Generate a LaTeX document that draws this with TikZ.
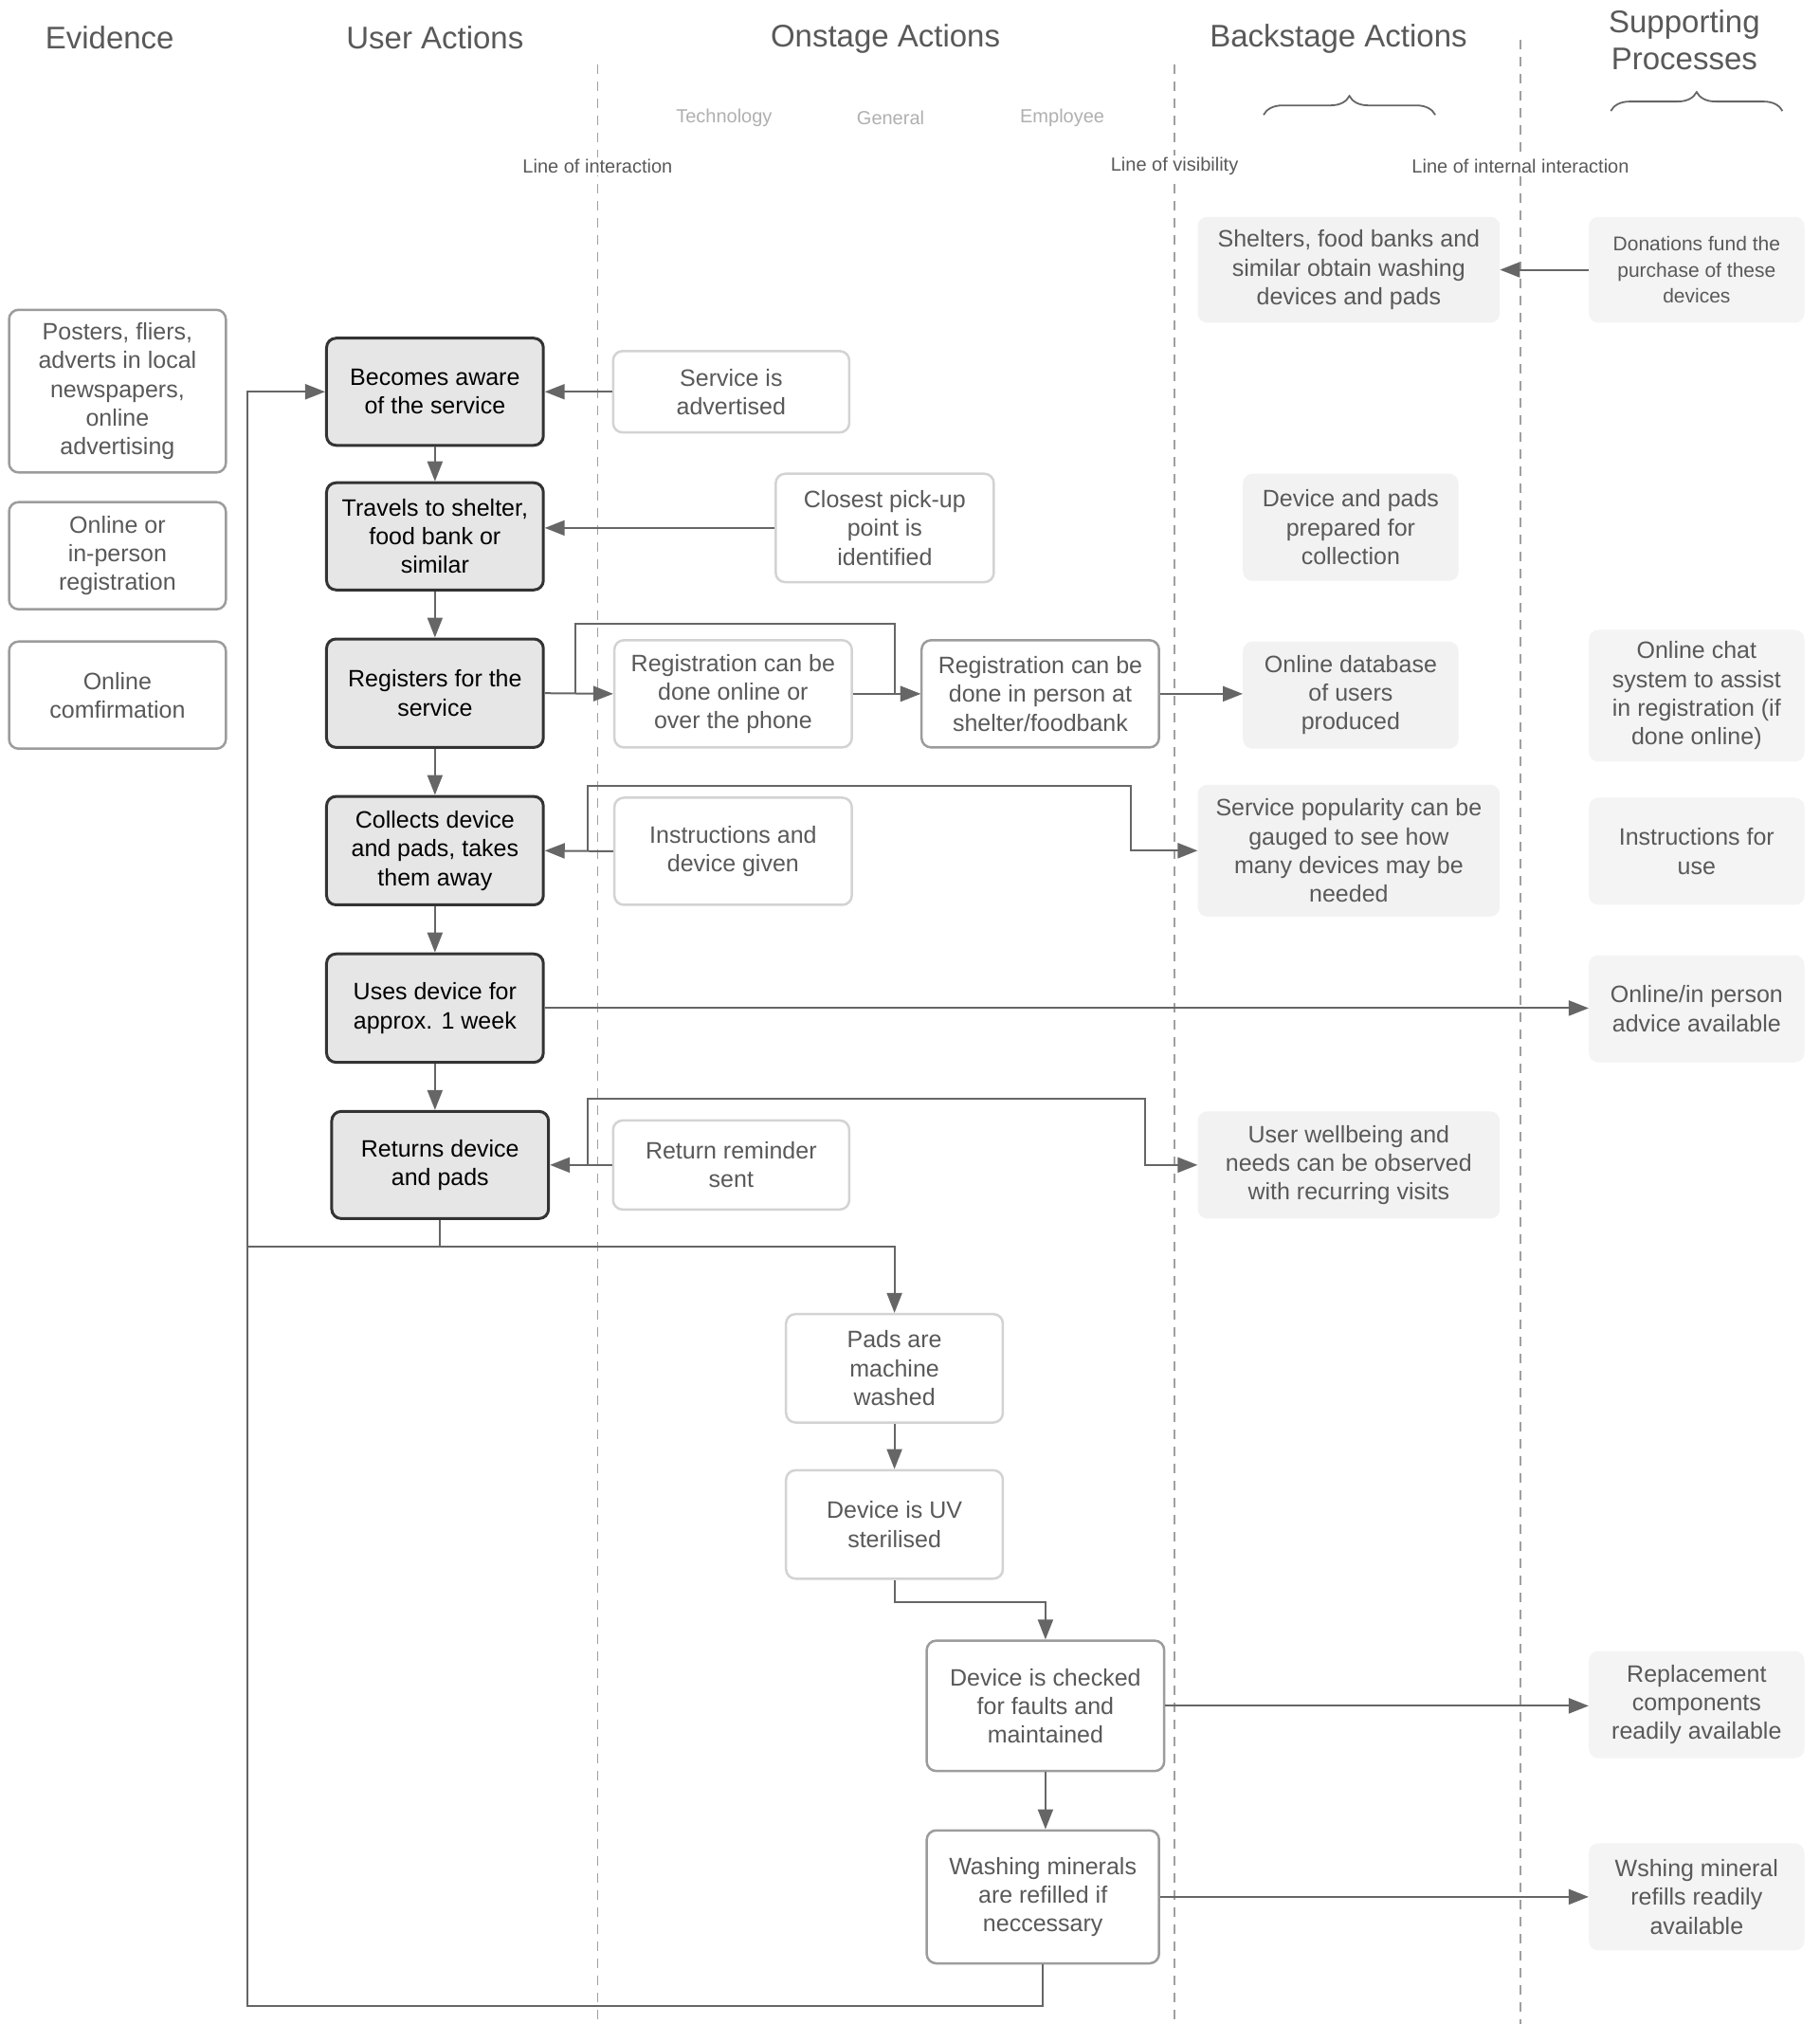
\documentclass[tikz,border=0pt]{standalone}
\usepackage{fontspec}
\setmainfont{Liberation Sans}
\usetikzlibrary{arrows.meta,decorations.pathreplacing}
\definecolor{txt}{HTML}{595959}
\definecolor{ufill}{HTML}{E6E6E6}
\definecolor{udraw}{HTML}{333333}
\definecolor{lborder}{HTML}{D3D3D3}
\definecolor{dborder}{HTML}{9C9C9C}
\definecolor{bfill}{HTML}{F2F2F2}
\definecolor{sfill}{HTML}{F4F4F4}
\definecolor{conncol}{HTML}{666666}
\definecolor{dashcol}{HTML}{A0A0A0}
\definecolor{sublab}{HTML}{B0B0B0}
\tikzset{
  boxbase/.style={rounded corners=10pt, align=center, inner sep=0pt, text=txt,
    font=\fontsize{25}{30.3}\selectfont},
  ubox/.style={boxbase, fill=ufill, draw=udraw, line width=3pt, text=black},
  lbox/.style={boxbase, fill=white, draw=lborder, line width=2.5pt},
  dbox/.style={boxbase, fill=white, draw=dborder, line width=2.5pt},
  bbox/.style={boxbase, fill=bfill},
  sbox/.style={boxbase, fill=sfill},
  head/.style={text=txt, align=center, font=\fontsize{33}{39.5}\selectfont},
  linelab/.style={text=txt, fill=white, inner sep=2pt, font=\fontsize{20}{24}\selectfont},
  collab/.style={text=sublab, font=\fontsize{20}{24}\selectfont},
  dline/.style={draw=dashcol, line width=1.5pt, dash pattern=on 10pt off 8pt},
  plain/.style={draw=conncol, line width=2pt},
  conn/.style={plain, -{Triangle[length=21pt,width=16pt]}},
  bracestyle/.style={draw=conncol, line width=1.8pt, decorate,
    decoration={brace, amplitude=20pt}},
}
% box macro: style, x1, y1, x2, y2, name  (coordinates in reference units)
\newcommand\bx[6]{\node[#1, minimum width={(#4-#2)*1.3617pt}, minimum height={(#5-#3)*1.3617pt}] (#6) at ({(#2+#4)/2},{(#3+#5)/2})}
\begin{document}
\begin{tikzpicture}[x=1.3617pt,y=-1.3617pt]
\useasboundingbox[fill=white] (0,0) rectangle (1410,1568);

% dashed lines
\draw[dline] (463,50) -- (463,1568);
\draw[dline] (910,50) -- (910,1568);
\draw[dline] (1178,31) -- (1178,1568);

% headers
\node[head] (hEv) at (85,29) {Evidence};
\node[head] (hUA) at (337,29) {User Actions};
\node[head] (hOn) at (686,30) {Onstage Actions};
\node[head] (hBa) at (1037,30) {Backstage Actions};
\node[head] (hSu) at (1305,31) {Supporting\\Processes};

\node[collab] (cT) at (561,91) {Technology};
\node[collab] (cG) at (690,91) {General};
\node[collab] (cE) at (823,91) {Employee};

\node[linelab] (lI) at (463,129) {Line of interaction};
\node[linelab] (lV) at (910,129) {Line of visibility};
\node[linelab] (lN) at (1178,129) {Line of internal interaction};

\draw[bracestyle] (979,89) -- (1112,89);
\draw[bracestyle] (1248,86) -- (1381,86);

% evidence
\bx{dbox}{7}{240}{175}{366}{e1} {Posters, fliers,\\adverts in local\\newspapers,\\online\\advertising};
\bx{dbox}{7}{389}{175}{472}{e2} {Online or\\in-person\\registration};
\bx{dbox}{7}{497}{175}{580}{e3} {Online\\comfirmation};

% user actions
\bx{ubox}{253}{262}{421}{345}{u1} {Becomes aware\\of the service};
\bx{ubox}{253}{374}{421}{457}{u2} {Travels to shelter,\\food bank or\\similar};
\bx{ubox}{253}{495}{421}{579}{u3} {Registers for the\\service};
\bx{ubox}{253}{617}{421}{701}{u4} {Collects device\\and pads, takes\\them away};
\bx{ubox}{253}{739}{421}{823}{u5} {Uses device for\\approx. 1 week};
\bx{ubox}{257}{861}{425}{944}{u6} {Returns device\\and pads};

% onstage
\bx{lbox}{475}{272}{658}{335}{o1} {Service is\\advertised};
\bx{lbox}{601}{367}{770}{451}{o2} {Closest pick-up\\point is\\identified};
\bx{lbox}{476}{496}{660}{579}{o3} {Registration can be\\done online or\\over the phone};
\bx{dbox}{714}{496}{898}{579}{o4} {Registration can be\\done in person at\\shelter/foodbank};
\bx{lbox}{476}{618}{660}{701}{o5} {Instructions and\\device given};
\bx{lbox}{475}{868}{658}{937}{o6} {Return reminder\\sent};
\bx{lbox}{609}{1018}{777}{1102}{o7} {Pads are\\machine\\washed};
\bx{lbox}{609}{1139}{777}{1223}{o8} {Device is UV\\sterilised};
\bx{dbox}{718}{1271}{902}{1372}{o9} {Device is checked\\for faults and\\maintained};
\bx{dbox}{718}{1418}{898}{1521}{o10} {Washing minerals\\are refilled if\\neccessary};

% backstage
\bx{bbox}{928}{168}{1162}{250}{b1} {Shelters, food banks and\\similar obtain washing\\devices and pads};
\bx{bbox}{963}{367}{1130}{450}{b2} {Device and pads\\prepared for\\collection};
\bx{bbox}{963}{497}{1130}{580}{b3} {Online database\\of users\\produced};
\bx{bbox}{928}{608}{1162}{710}{b4} {Service popularity can be\\gauged to see how\\many devices may be\\needed};
\bx{bbox}{928}{861}{1162}{944}{b5} {User wellbeing and\\needs can be observed\\with recurring visits};

% supporting
\bx{sbox, font=\fontsize{21}{27.5}\selectfont}{1231}{168}{1398}{250}{s1} {Donations fund the\\purchase of these\\devices};
\bx{sbox}{1231}{488}{1398}{590}{s2} {Online chat\\system to assist\\in registration (if\\done online)};
\bx{sbox}{1231}{618}{1398}{701}{s3} {Instructions for\\use};
\bx{sbox}{1231}{740}{1398}{823}{s4} {Online/in person\\advice available};
\bx{sbox}{1231}{1279}{1398}{1362}{s5} {Replacement\\components\\readily available};
\bx{sbox}{1231}{1428}{1398}{1511}{s6} {Wshing mineral\\refills readily\\available};

% bend points
\coordinate (k1) at (693,483);
\coordinate (k2) at (876,609);
\coordinate (k3) at (887,851);
\coordinate (k4) at (693,966);
\coordinate (k5) at (192,966);
\coordinate (k6) at (192,1554);

% connectors
\draw[conn] (s1.west) -- (b1.east);
\draw[conn] (o1.west) -- (u1.east);
\draw[conn] (o2.west) -- (o2.west -| u2.east);
\draw[conn] (u1.south) -- (u2.north);
\draw[conn] (u2.south) -- (u3.north);
\draw[conn] (u3.south) -- (u4.north);
\draw[conn] (u4.south) -- (u5.north);
\draw[conn] (u5.south) -- (u5.south |- u6.north);
\draw[conn] (u3.east) -- (o3.west);
\draw[conn] (u3.east) ++(24,0) |- (k1) |- (o4.west);
\draw[conn] (o3.east) -- (o4.west);
\draw[conn] (o4.east) -- (o4.east -| b3.west);
\draw[conn] (o5.west) -- (u4.east);
\draw[conn] (o5.west) ++(-20,0) |- (k2) |- (b4.west);
\draw[conn] (u5.east) -- (u5.east -| s4.west);
\draw[conn] (o6.west) -- (u6.east);
\draw[conn] (o6.west) ++(-19,0) |- (k3) |- (b5.west);
\draw[conn] (u6.south) |- (k4) -- (o7.north);
\draw[plain] (u6.south) |- (k5);
\draw[conn] (o10.south) |- (k6) |- (u1.west);
\draw[conn] (o7.south) -- (o8.north);
\draw[conn] (o8.south) -- ++(0,17) -| (o9.north);
\draw[conn] (o9.south) -- (o9.south |- o10.north);
\draw[conn] (o9.east) -- (o9.east -| s5.west);
\draw[conn] (o10.east) -- (o10.east -| s6.west);
\end{tikzpicture}
\end{document}
